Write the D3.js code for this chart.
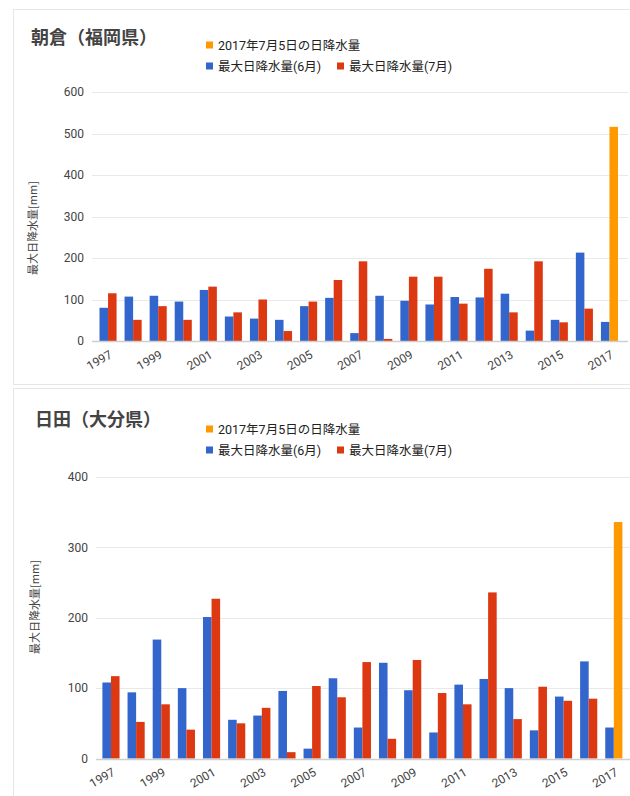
<!DOCTYPE html>
<html>
<head>
<meta charset="utf-8">
<script src="https://cdn.jsdelivr.net/npm/d3@7"></script>
<style>
  html, body { margin: 0; padding: 0; background: #ffffff; }
  svg { display: block; }
  text { font-family: Roboto, "Noto Sans CJK JP", sans-serif; }
</style>
</head>
<body>
<svg id="chart" width="630" height="796"></svg>
<script>
// ---------- data ----------
const years = ["1997","1998","1999","2000","2001","2002","2003","2004","2005","2006","2007",
               "2008","2009","2010","2011","2012","2013","2014","2015","2016","2017"];
const xTickLabels = ["1997","1999","2001","2003","2005","2007","2009","2011","2013","2015","2017"];
const seriesNames = ["2017年7月5日の日降水量", "最大日降水量(6月)", "最大日降水量(7月)"];
const seriesColors = ["#ff9900", "#3366cc", "#dc3912"];
const yTitle = "最大日降水量[mm]";

// 朝倉（福岡県）
const asakuraTitle = "朝倉（福岡県）";
const asakuraJune = [80,107,109,95,123,59,54,51,84,104,19,109,97,88,106,105,114,25,51,213,46];
const asakuraJuly = [115,51,84,51,131,69,100,24,95,147,192,5,155,155,90,174,69,192,45,78,null];
const asakuraJul5 = [null,null,null,null,null,null,null,null,null,null,null,null,null,null,null,null,null,null,null,null,516];
const asakuraTicks = [0,100,200,300,400,500,600];

// 日田（大分県）
const hitaTitle = "日田（大分県）";
const hitaJune = [108,94,169,100,201,55,61,96,14,114,44,136,97,37,105,113,100,40,88,138,44];
const hitaJuly = [117,52,77,41,227,50,72,9,103,87,137,28,140,93,77,236,56,102,82,85,null];
const hitaJul5 = [null,null,null,null,null,null,null,null,null,null,null,null,null,null,null,null,null,null,null,null,336];
const hitaTicks = [0,100,200,300,400];

// ---------- drawing ----------
const svg = d3.select("#chart");

function drawPanel(cfg) {
  const g = svg.append("g");

  // card
  g.append("rect")
    .attr("x", cfg.card[0] + 0.5).attr("y", cfg.card[1] + 0.5)
    .attr("width", cfg.card[2]).attr("height", cfg.card[3])
    .attr("fill", "#ffffff").attr("stroke", "#e6e6e6").attr("stroke-width", 1);

  const x = d3.scaleBand().domain(years).range(cfg.xRange);
  const sub = d3.scaleBand().domain(["a","b"]).range([4, x.bandwidth() - 4]);
  const y = d3.scaleLinear().domain([0, d3.max(cfg.ticks)]).range([cfg.y0, cfg.yTop]);

  // gridlines
  g.append("g").selectAll("line").data(cfg.ticks.filter(t => t !== 0)).join("line")
    .attr("x1", cfg.gridX[0]).attr("x2", cfg.gridX[1])
    .attr("y1", d => Math.round(y(d)) + 0.5).attr("y2", d => Math.round(y(d)) + 0.5)
    .attr("stroke", "#e9e9e9").attr("stroke-width", 1);

  // y tick labels
  g.append("g").selectAll("text").data(cfg.ticks).join("text")
    .attr("x", cfg.gridX[0] - 8).attr("y", d => y(d))
    .attr("dy", "0.35em")
    .attr("text-anchor", "end")
    .attr("font-size", 12).attr("fill", "#444")
    .text(d => d);

  // bars: June (blue) in first slot, July (red) or 2017/7/5 (orange) in second slot
  const rows = years.map((yr, i) => ({yr, june: cfg.june[i], july: cfg.july[i], jul5: cfg.jul5[i]}));
  const bars = g.append("g");
  bars.selectAll("rect.june").data(rows.filter(d => d.june != null)).join("rect")
    .attr("class", "june")
    .attr("x", d => x(d.yr) + sub("a")).attr("width", sub.bandwidth())
    .attr("y", d => y(d.june)).attr("height", d => y(0) - y(d.june))
    .attr("fill", seriesColors[1]);
  bars.selectAll("rect.july").data(rows.filter(d => d.july != null)).join("rect")
    .attr("class", "july")
    .attr("x", d => x(d.yr) + sub("b")).attr("width", sub.bandwidth())
    .attr("y", d => y(d.july)).attr("height", d => y(0) - y(d.july))
    .attr("fill", seriesColors[2]);
  bars.selectAll("rect.jul5").data(rows.filter(d => d.jul5 != null)).join("rect")
    .attr("class", "jul5")
    .attr("x", d => x(d.yr) + sub("b")).attr("width", sub.bandwidth())
    .attr("y", d => y(d.jul5)).attr("height", d => y(0) - y(d.jul5))
    .attr("fill", seriesColors[0]);

  // baseline
  g.append("line")
    .attr("x1", cfg.gridX[0]).attr("x2", cfg.gridX[1])
    .attr("y1", Math.round(y(0)) + 0.5).attr("y2", Math.round(y(0)) + 0.5)
    .attr("stroke", "#cfcfcf").attr("stroke-width", 1.5);

  // x tick labels (slanted)
  g.append("g").selectAll("text").data(xTickLabels).join("text")
    .attr("transform", d => `translate(${x(d) + x.bandwidth() / 2 + 5},${y(0) + 16}) rotate(-30)`)
    .attr("text-anchor", "end")
    .attr("font-size", 12).attr("fill", "#444")
    .text(d => d);

  // y-axis title
  g.append("text")
    .attr("transform", `translate(${cfg.yTitlePos[0]},${cfg.yTitlePos[1]}) rotate(-90)`)
    .attr("text-anchor", "middle").attr("dy", "0.35em")
    .attr("font-size", 11).attr("fill", "#444")
    .style("font-family", "'Noto Sans CJK JP', sans-serif")
    .text(yTitle);

  // title
  g.append("text")
    .attr("x", cfg.titlePos[0]).attr("y", cfg.titlePos[1])
    .attr("dy", "0.36em")
    .attr("font-size", 18).attr("font-weight", 700).attr("fill", "#444")
    .style("font-family", "'Noto Sans CJK JP', sans-serif")
    .text(cfg.title);

  // legend
  const lg = g.append("g").style("font-family", "'Noto Sans CJK JP', sans-serif");
  const legendItems = [
    {name: seriesNames[0], color: seriesColors[0], x: cfg.legend[0], y: cfg.legend[1]},
    {name: seriesNames[1], color: seriesColors[1], x: cfg.legend[0], y: cfg.legend[2]},
    {name: seriesNames[2], color: seriesColors[2], x: cfg.legend[0] + 131, y: cfg.legend[2]}
  ];
  const li = lg.selectAll("g").data(legendItems).join("g")
    .attr("transform", d => `translate(${d.x},${d.y})`);
  li.append("rect").attr("x", 0).attr("y", -3.5).attr("width", 7).attr("height", 7)
    .attr("fill", d => d.color);
  li.append("text").attr("x", 12).attr("y", 0).attr("dy", "0.36em")
    .attr("font-size", 12.5).attr("fill", "#222")
    .text(d => d.name);
}

drawPanel({
  title: asakuraTitle,
  june: asakuraJune, july: asakuraJuly, jul5: asakuraJul5, ticks: asakuraTicks,
  card: [13, 9, 640, 375],
  xRange: [95.5, 622],
  gridX: [92, 628],
  y0: 341, yTop: 92,
  yTitlePos: [33, 228],
  titlePos: [31, 38],
  legend: [206, 45, 66]
});

drawPanel({
  title: hitaTitle,
  june: hitaJune, july: hitaJuly, jul5: hitaJul5, ticks: hitaTicks,
  card: [13, 388, 640, 420],
  xRange: [98.4, 626.4],
  gridX: [96, 630],
  y0: 758.5, yTop: 477,
  yTitlePos: [35, 607],
  titlePos: [35, 420],
  legend: [206, 429, 450]
});
</script>
</body>
</html>
